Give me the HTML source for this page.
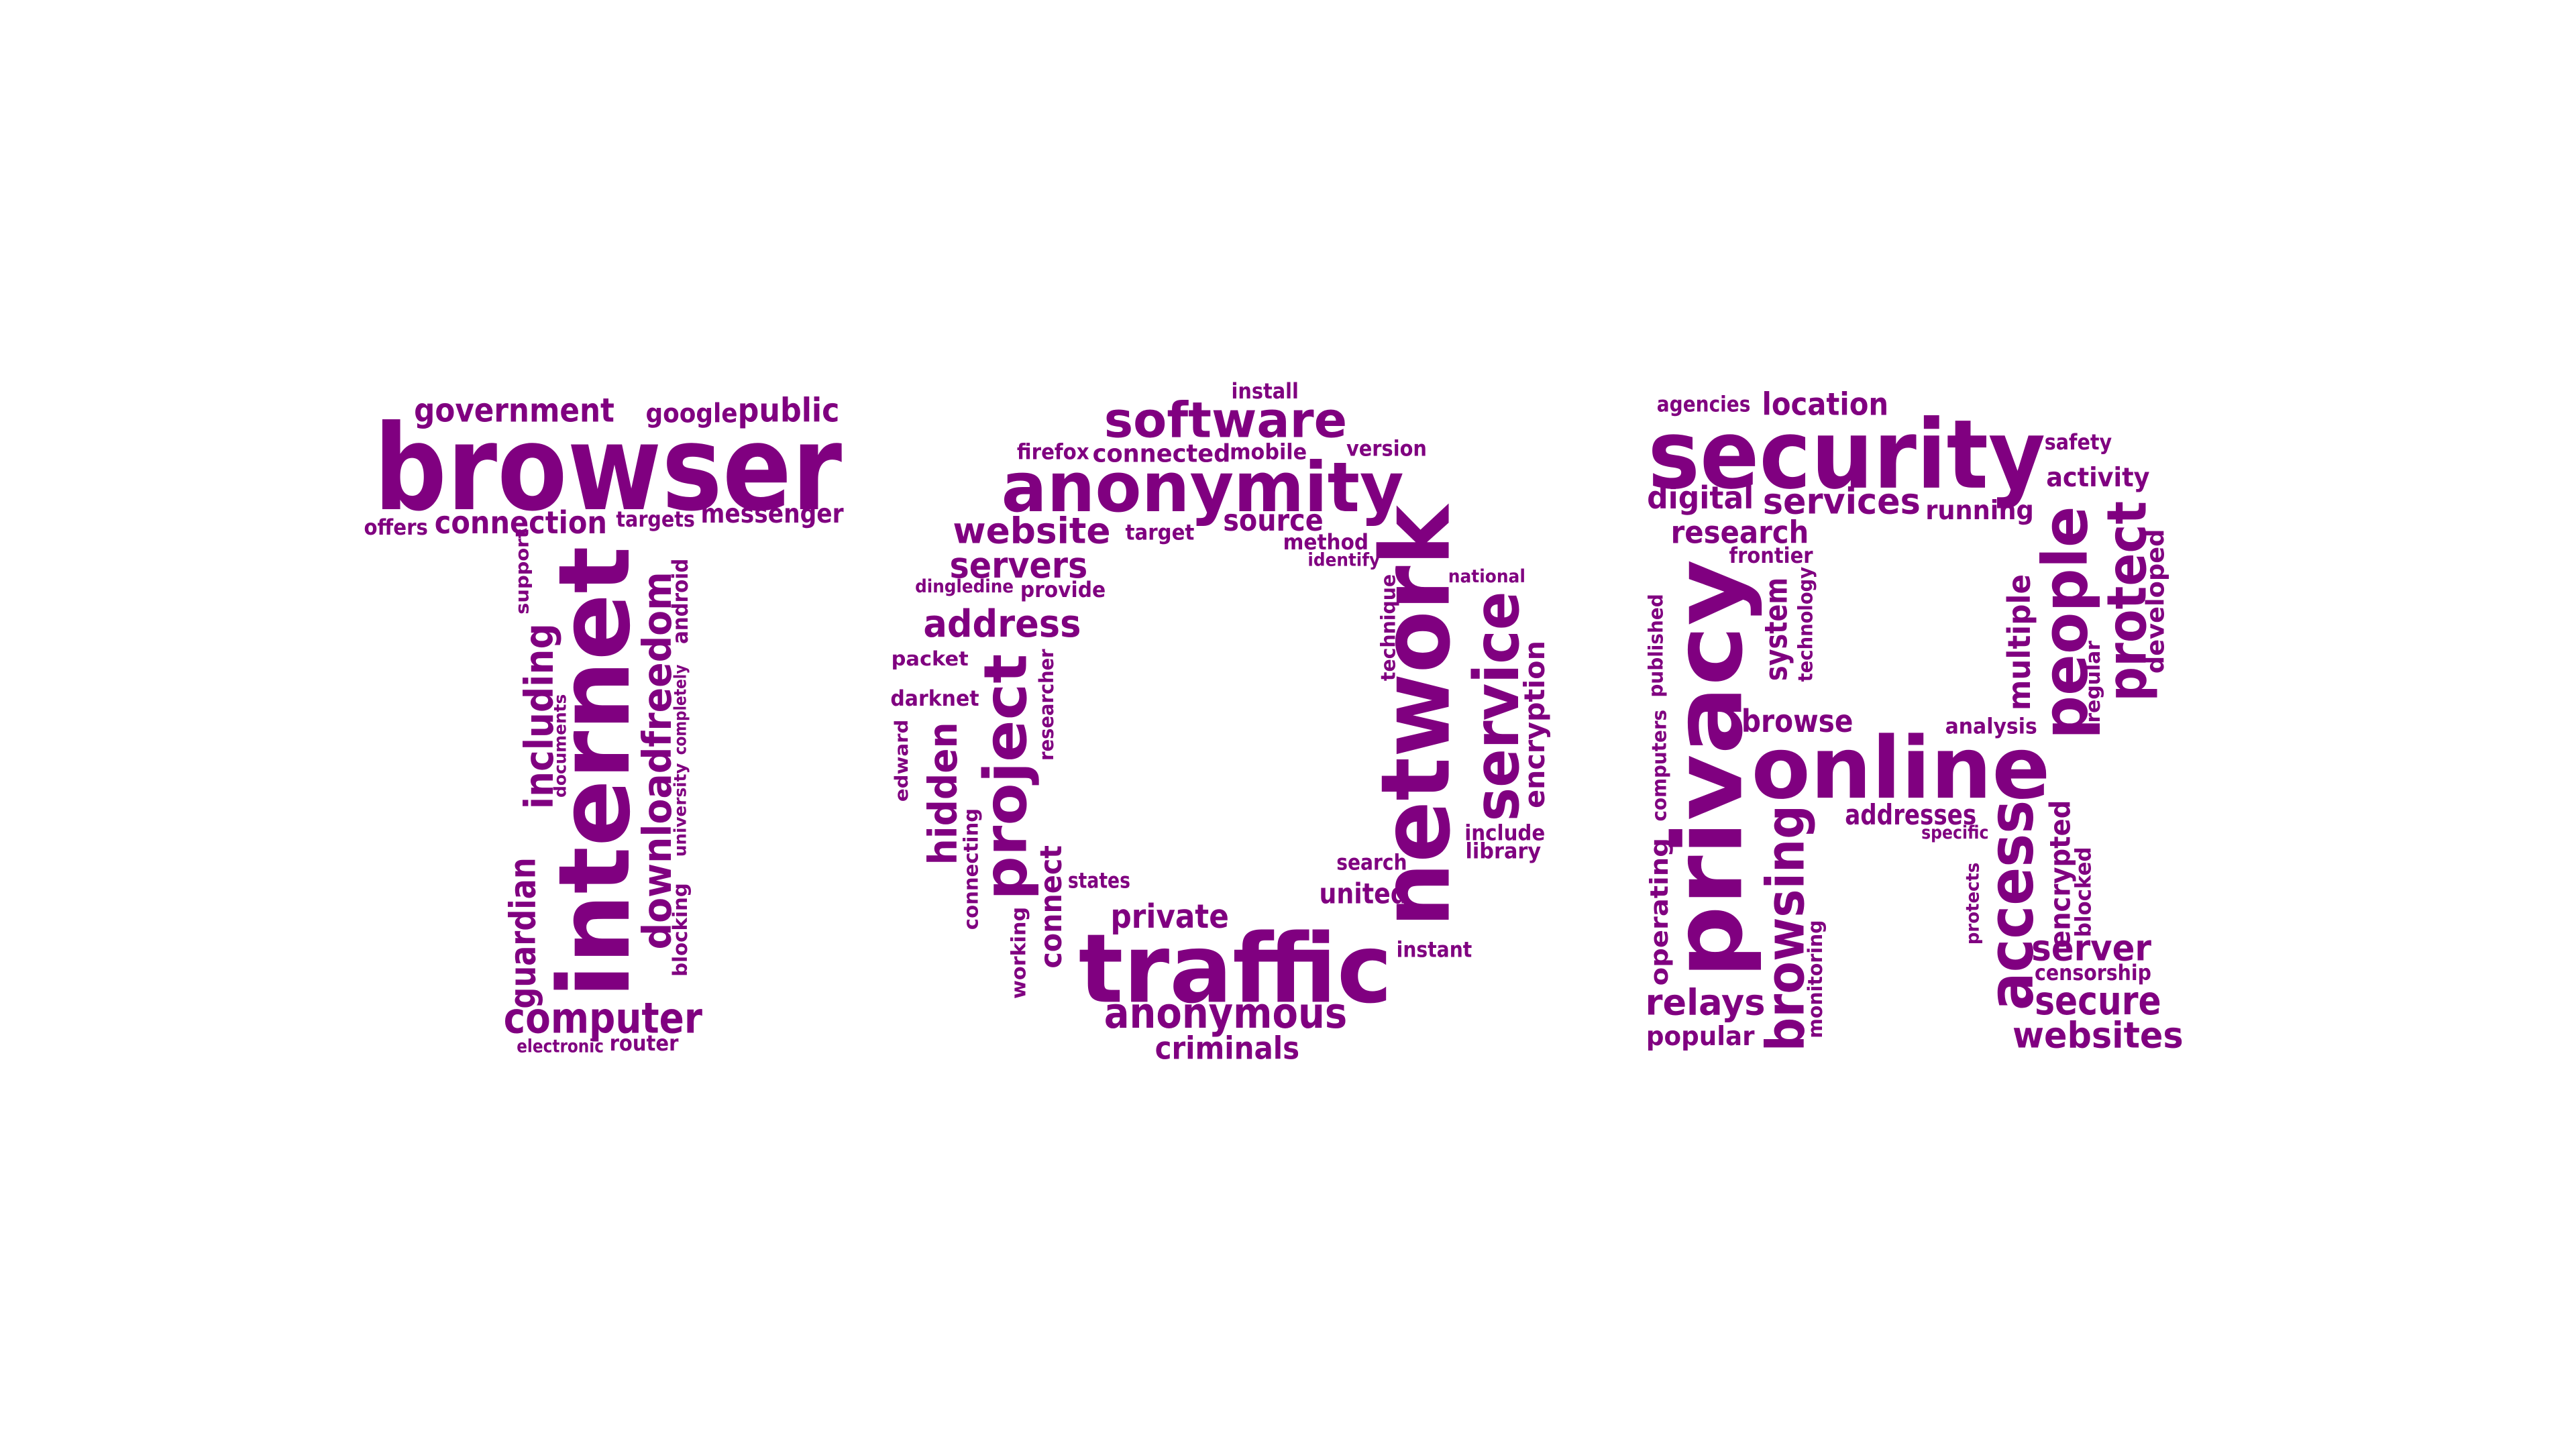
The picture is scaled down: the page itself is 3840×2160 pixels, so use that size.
<!DOCTYPE html>
<html><head><meta charset="utf-8"><title>TOR word cloud</title>
<style>
html,body{margin:0;padding:0;background:#fff;}
svg{display:block;}
text{font-family:"DejaVu Sans","Liberation Sans",sans-serif;font-weight:bold;fill:#800080;}
</style></head>
<body>
<svg id="cloud" width="3840" height="2160" viewBox="0 0 1568 882" xmlns="http://www.w3.org/2000/svg"></svg>
<script>
// [word, centerX, centerY, length, fontSize, vertical]
const letterT = [
["government",313,250,122,20,0],["google",421,252,56,16,0],["public",480,250,62,20,0],
["browser",370,285,285,72,0],["offers",241,321,39,13,0],["connection",317,318,105,19,0],
["targets",399,316,48,13,0],["messenger",470,313,87,16,0],["computer",367,620,121,26,0],
["electronic",341,637,53,11,0],["router",392,635,42,13,0],
["internet",362,470,275,60,1],["including",328,436,113,24,1],["support",318,348,52,11,1],
["documents",341,454,63,10,1],["downloadfreedom",400,463,230,24,1],["android",414,366,52,13,1],
["completely",414,432,55,10,1],["university",414,493,57,10,1],["blocking",414,566,57,12,1],
["guardian",318,568,92,22,1]
];
const letterO = [
["install",770,238,41,13,0],["software",746,256,148,30,0],["firefox",641,275,44,13,0],
["connected",707,276,84,15,0],["mobile",772,275,47,13,0],["version",844,273,49,13,0],
["anonymity",732,297,245,42,0],["website",628,323,96,22,0],["target",706,324,42,13,0],
["source",775,317,61,18,0],["method",807,330,52,13,0],["identify",818,341,44,11,0],
["servers",620,344,84,22,0],["dingledine",587,357,60,11,0],["provide",647,359,52,13,0],
["address",610,380,96,23,0],["packet",566,401,47,12,0],["darknet",569,425,54,13,0],
["states",669,536,38,13,0],["private",712,558,72,20,0],["search",835,525,43,13,0],
["united",830,544,54,17,0],["instant",873,578,46,13,0],["traffic",752,590,191,58,0],
["anonymous",746,617,148,26,0],["criminals",747,638,88,19,0],["national",905,351,47,11,0],
["include",916,507,49,13,0],["library",915,518,46,13,0],
["project",612,473,150,36,1],["hidden",574,483,87,24,1],["researcher",637,429,68,12,1],
["edward",549,463,50,11,1],["connecting",591,529,74,12,1],["working",620,580,56,12,1],
["connect",640,552,75,18,1],["network",862,436,257,58,1],["service",911,430,140,38,1],
["encryption",934,441,102,17,1],["technique",845,382,65,12,1]
];
const letterR = [
["agencies",1037,246,57,13,0],["location",1111,246,77,19,0],["security",1124,277,242,58,0],
["safety",1265,269,41,13,0],["activity",1277,291,63,16,0],["digital",1035,303,65,19,0],
["services",1121,305,96,22,0],["running",1205,311,66,16,0],["research",1059,324,84,19,0],
["frontier",1078,338,51,13,0],["browse",1094,439,68,19,0],["analysis",1212,442,56,13,0],
["online",1157,468,182,52,0],["addresses",1163,496,80,17,0],["specific",1190,507,41,11,0],
["server",1273,577,73,22,0],["censorship",1274,592,71,13,0],["relays",1038,610,73,22,0],
["secure",1277,609,77,24,0],["popular",1035,631,66,16,0],["websites",1277,630,104,22,0],
["privacy",1040,468,255,58,1],["published",1008,393,63,12,1],["computers",1010,466,68,12,1],
["operating",1010,555,90,15,1],["system",1081,383,63,19,1],["technology",1099,380,70,12,1],
["browsing",1087,565,150,32,1],["monitoring",1105,596,72,12,1],["multiple",1229,391,83,19,1],
["people",1257,379,142,38,1],["regular",1274,415,50,12,1],["protect",1295,366,122,33,1],
["developed",1312,366,88,15,1],["access",1224,551,128,38,1],["encrypted",1254,532,90,17,1],
["blocked",1268,543,55,13,1],["protects",1201,550,50,11,1]
];
const NS = "http://www.w3.org/2000/svg";
const svg = document.getElementById("cloud");
function draw(list, groupName){
  const g = document.createElementNS(NS,"g");
  
  
  svg.appendChild(g);
  list.forEach(w=>{
    const t = document.createElementNS(NS,"text");
    t.textContent = w[0];
    t.setAttribute("text-anchor","middle");
    t.setAttribute("dominant-baseline","central");
    t.setAttribute("font-size", w[4]);
    t.setAttribute("textLength", w[3]);
    t.setAttribute("lengthAdjust","spacingAndGlyphs");
    t.setAttribute("transform", "translate("+w[1]+","+w[2]+")"+(w[5]?" rotate(-90)":""));
    
    
    g.appendChild(t);
  });
}
draw(letterT, "letter-t-words");
draw(letterO, "letter-o-words");
draw(letterR, "letter-r-words");
</script>
</body></html>
